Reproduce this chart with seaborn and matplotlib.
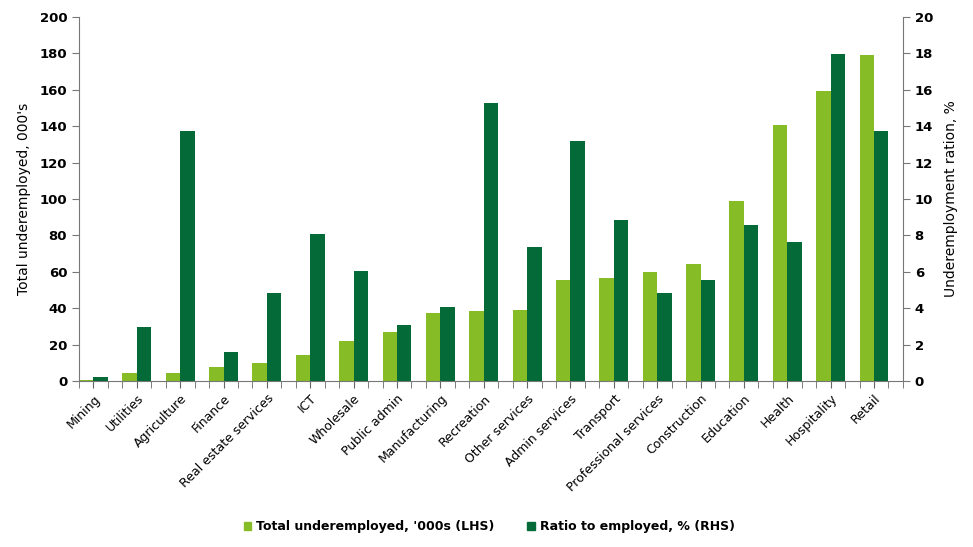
import pandas as pd
import seaborn as sns
import matplotlib.pyplot as plt
import numpy as np
from matplotlib.ticker import FixedLocator, MultipleLocator
from matplotlib.patches import Patch

#################### Data ####################

sectors = ['Mining', 'Utilities', 'Agriculture', 'Finance', 'Real estate services', 'ICT',
           'Wholesale', 'Public admin', 'Manufacturing', 'Recreation', 'Other services',
           'Admin services', 'Transport', 'Professional services', 'Construction',
           'Education', 'Health', 'Hospitality', 'Retail']

total_underemployed = [0.5, 4.4, 4.4, 7.7, 9.9, 14.3, 22.0, 26.9, 37.4, 38.5, 39.0,
                       55.5, 56.6, 59.9, 64.3, 98.9, 140.7, 159.3, 179.1]

ratio_to_employed = [0.22, 2.97, 13.74, 1.6, 4.84, 8.08, 6.04, 3.08, 4.07, 15.27, 7.36,
                     13.19, 8.85, 4.84, 5.55, 8.57, 7.64, 17.97, 13.74]

lhs_name = "Total underemployed, '000s (LHS)"
rhs_name = "Ratio to employed, % (RHS)"

light_green = '#86bc25'
dark_green = '#046a38'

df_lhs = pd.DataFrame({'sector': sectors, 'value': total_underemployed, 'series': lhs_name})
df_rhs = pd.DataFrame({'sector': sectors, 'value': ratio_to_employed, 'series': rhs_name})

#################### Plot ####################

sns.set_style('white')
plt.rcParams['font.family'] = ['DejaVu Sans']
plt.rcParams['text.color'] = 'black'
plt.rcParams['axes.labelcolor'] = 'black'
plt.rcParams['xtick.color'] = 'black'
plt.rcParams['ytick.color'] = 'black'

fig = plt.figure(figsize=(9.73, 5.47), dpi=100)
ax1 = fig.add_axes([0.0812, 0.3035, 0.8468, 0.6655])
ax2 = ax1.twinx()

palette = {lhs_name: light_green, rhs_name: dark_green}
hue_order = [lhs_name, rhs_name]

# each series on its own axis, dodged as if both were present
sns.barplot(data=df_lhs, x='sector', y='value', hue='series', hue_order=hue_order,
            palette=palette, width=2/3, dodge=True, ax=ax1, legend=False,
            saturation=1, linewidth=0)
sns.barplot(data=df_rhs, x='sector', y='value', hue='series', hue_order=hue_order,
            palette=palette, width=2/3, dodge=True, ax=ax2, legend=False,
            saturation=1, linewidth=0)

n = len(sectors)
ax1.set_xlim(-1/3, n - 1/3)
ax1.set_ylim(0, 200)
ax2.set_ylim(0, 20)
ax1.yaxis.set_major_locator(MultipleLocator(20))
ax2.yaxis.set_major_locator(MultipleLocator(2))

ax1.set_xticks(np.arange(n))
ax1.set_xticklabels(sectors, rotation=45, ha='right', rotation_mode='anchor', fontsize=9)
ax1.xaxis.set_minor_locator(FixedLocator(np.arange(-1/3, n - 1/3 + 0.01, 1/3)))
ax1.tick_params(axis='x', which='both', length=5, color='#666666', direction='out',
                bottom=True, pad=3)

for ax in (ax1, ax2):
    ax.set_xlabel('')
    for s in ax.spines.values():
        s.set_color('#777777')
    ax.spines['top'].set_visible(False)
    ax.tick_params(axis='y', length=5, color='#777777', direction='out', labelsize=9.5)
    for lbl in ax.get_yticklabels():
        lbl.set_fontweight('bold')

ax1.tick_params(axis='y', left=True)
ax2.tick_params(axis='y', right=True)
ax1.spines['right'].set_visible(False)
ax2.spines['left'].set_visible(False)
ax2.spines['bottom'].set_visible(False)

ax1.set_ylabel("Total underemployed, 000's", fontsize=10, labelpad=6)
ax2.set_ylabel('Underemployment ration, %', fontsize=10, labelpad=8)

handles = [Patch(color=light_green), Patch(color=dark_green)]
fig.legend(handles, [lhs_name, rhs_name], loc='center', bbox_to_anchor=(0.503, 0.037), ncol=2,
           frameon=False, handlelength=0.6, handleheight=0.6, handletextpad=0.4,
           columnspacing=2.6, prop={'weight': 'bold', 'size': 9})

plt.savefig('out.png', dpi=100)
